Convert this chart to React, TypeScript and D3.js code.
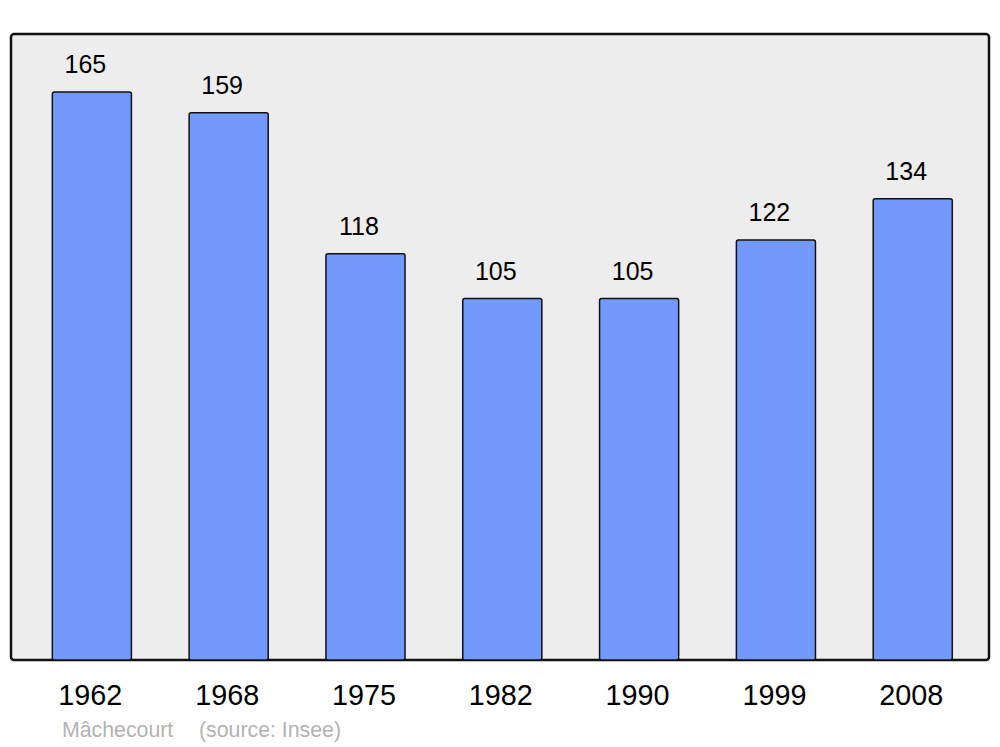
import React from "react";
import * as d3 from "d3";

const years = ["1962", "1968", "1975", "1982", "1990", "1999", "2008"];
const population = [165, 159, 118, 105, 105, 122, 134];
const sourceLabel = "Mâchecourt";
const sourceNote = "(source: Insee)";

export default function App() {
  const W = 1000, H = 747;
  const panel = { x: 11, y: 34, w: 978, h: 626 };
  const x = d3.scaleBand<string>().domain(years).range([23.6, 981]).paddingInner(0.422).paddingOuter(0.21);
  const y = d3.scaleLinear().domain([0, 165]).range([660, 92]);
  const font = "'Liberation Sans', Arial, sans-serif";
  return (
    <svg width={W} height={H} style={{ position: "absolute", left: 0, top: 0 }} fontFamily={font}>
      <rect x={panel.x} y={panel.y} width={panel.w} height={panel.h} rx={3} fill="#ededed" stroke="#111" strokeWidth={2.5} />
      {years.map((yr, i) => {
        const bx = x(yr)!;
        const bw = x.bandwidth();
        const top = y(population[i]);
        return (
          <g key={yr}>
            <rect x={bx} y={top} width={bw} height={y(0) - top} rx={2} fill="#7399ff" stroke="#111" strokeWidth={1.5} />
            <text x={bx + bw / 2 - 6.5} y={top - 19} textAnchor="middle" fontSize={25} fill="#000">{population[i]}</text>
            <text x={bx + bw / 2 - 1.5} y={705} textAnchor="middle" fontSize={28.8} fill="#000">{yr}</text>
          </g>
        );
      })}
      <text x={62} y={737} fontSize={21.3} fill="#b3b3b3">{sourceLabel}</text>
      <text x={199} y={737} fontSize={21.3} fill="#b3b3b3">{sourceNote}</text>
    </svg>
  );
}
